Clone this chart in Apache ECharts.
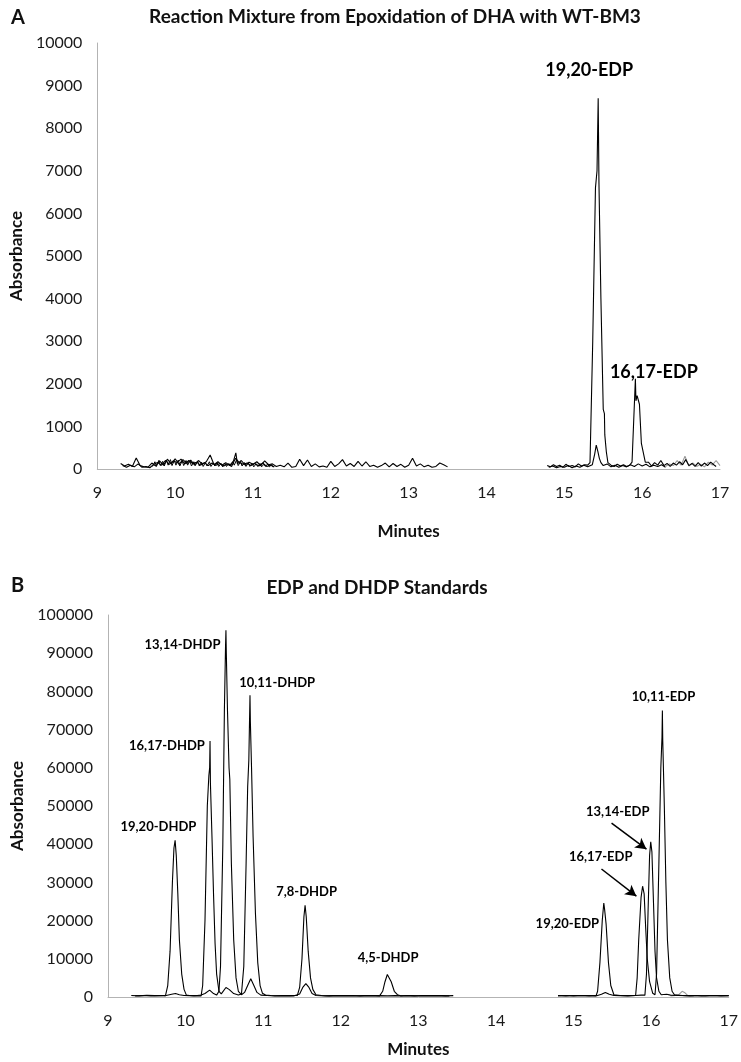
<!DOCTYPE html>
<html>
<head>
<meta charset="utf-8">
<script src="https://cdn.jsdelivr.net/npm/echarts@6/dist/echarts.min.js"></script>
<style>
html,body{margin:0;padding:0;background:#fff;}
#c{width:741px;height:1062px;}
</style>
</head>
<body>
<div id="c"></div>
<script>
// ---------- Panel A data (minutes, absorbance) ----------
const topXTicks = [9, 10, 11, 12, 13, 14, 15, 16, 17];
const topA_left = [[9.30,130],[9.35,70],[9.40,110],[9.45,60],[9.50,260],[9.55,80],[9.60,50],[9.65,40],[9.70,140],[9.75,70],[9.80,190],[9.85,90],[9.90,230],[9.95,120],[10.00,240],[10.05,110],[10.10,220],[10.15,130],[10.20,210],[10.25,90],[10.30,200],[10.35,110],[10.40,170],[10.45,330],[10.50,100],[10.55,170],[10.60,90],[10.65,150],[10.70,80],[10.75,190],[10.78,380],[10.80,120],[10.85,200],[10.90,90],[10.95,160],[11.00,110],[11.05,170],[11.10,80],[11.15,190],[11.20,100],[11.25,120],[11.30,60],[11.35,90],[11.40,50],[11.45,140],[11.50,40],[11.55,60],[11.60,230],[11.65,80],[11.70,210],[11.75,60],[11.80,120],[11.85,50],[11.90,70],[11.95,40],[12.00,180],[12.05,60],[12.10,120],[12.15,220],[12.20,70],[12.25,130],[12.30,60],[12.35,180],[12.40,70],[12.45,170],[12.50,60],[12.55,90],[12.60,40],[12.65,80],[12.70,140],[12.75,50],[12.80,130],[12.85,60],[12.90,110],[12.95,40],[13.00,90],[13.05,250],[13.10,70],[13.15,120],[13.20,50],[13.25,90],[13.30,40],[13.35,60],[13.40,140],[13.45,100],[13.50,50]];
const topB_left = [[9.325,80],[9.375,40],[9.425,90],[9.475,50],[9.525,120],[9.575,40],[9.625,60],[9.675,30],[9.725,110],[9.775,150],[9.825,90],[9.875,200],[9.925,110],[9.975,190],[10.025,150],[10.075,230],[10.125,120],[10.175,200],[10.225,130],[10.275,160],[10.325,90],[10.375,150],[10.425,80],[10.475,140],[10.525,90],[10.575,130],[10.625,70],[10.675,120],[10.725,60],[10.775,250],[10.825,150],[10.875,110],[10.925,140],[10.975,80],[11.025,130],[11.075,70],[11.125,140],[11.175,60],[11.225,90],[11.275,50]];
const topC_left = [[9.71,60],[9.74,170],[9.76,60],[9.79,200],[9.81,80],[9.84,180],[9.86,70],[9.89,210],[9.91,90],[9.94,220],[9.96,80],[9.99,200],[10.01,90],[10.04,210],[10.06,70],[10.09,190],[10.11,80],[10.14,200],[10.16,90],[10.19,180],[10.21,70],[10.24,170],[10.26,80],[10.29,190],[10.31,70],[10.34,160],[10.36,60],[10.39,150],[10.41,70],[10.44,170],[10.46,60],[10.49,140],[10.51,70],[10.54,150],[10.56,60],[10.59,130],[10.61,50],[10.64,140],[10.66,60],[10.69,130],[10.71,70],[10.74,160],[10.76,90],[10.79,220],[10.81,80],[10.84,170],[10.86,70],[10.89,150],[10.91,60],[10.94,140],[10.96,60],[10.99,130],[11.01,50],[11.04,120],[11.06,60],[11.09,130],[11.11,50],[11.14,110],[11.16,60],[11.19,120],[11.21,50],[11.24,100],[11.26,40]];
const topA_right = [[14.78,80],[14.82,50],[14.86,100],[14.90,60],[14.94,90],[14.98,40],[15.02,110],[15.06,60],[15.10,80],[15.14,50],[15.18,120],[15.22,70],[15.26,100],[15.30,90],[15.33,150],[15.365,3000],[15.40,6600],[15.42,7000],[15.435,8700],[15.445,6700],[15.47,4000],[15.50,1400],[15.515,1300],[15.52,800],[15.54,400],[15.56,150],[15.60,90],[15.64,60],[15.68,110],[15.72,70],[15.76,100],[15.80,60],[15.84,90],[15.87,160],[15.913,2120],[15.92,1600],[15.935,1720],[15.965,1520],[15.99,600],[16.01,640],[16.04,160],[16.08,160],[16.12,70],[16.16,150],[16.20,90],[16.24,200],[16.28,80],[16.32,130],[16.36,60],[16.40,140],[16.44,90],[16.48,170],[16.52,100],[16.56,220],[16.60,80],[16.64,130],[16.68,60],[16.72,150],[16.76,70],[16.80,140],[16.84,80],[16.88,160],[16.92,100],[16.95,60]];
const topB_right = [[14.80,40],[14.85,70],[14.90,30],[14.95,60],[15.00,40],[15.05,80],[15.10,30],[15.15,70],[15.20,40],[15.25,90],[15.30,50],[15.36,100],[15.39,350],[15.41,560],[15.43,420],[15.45,250],[15.47,150],[15.50,80],[15.55,120],[15.60,50],[15.65,90],[15.70,40],[15.75,80],[15.80,50],[15.85,100],[15.90,60],[15.95,120],[16.00,70],[16.05,110],[16.10,50],[16.15,90],[16.20,60],[16.25,100],[16.30,40]];
const topGrey_right = [[16.30,60],[16.35,120],[16.40,80],[16.45,200],[16.50,90],[16.55,300],[16.60,70],[16.65,140],[16.70,60],[16.75,110],[16.80,50],[16.85,160],[16.90,90],[16.95,200],[17.00,80]];
const topPeakLabels = [[15.32,9370,'19,20-EDP'],[16.15,2280,'16,17-EDP']];

// ---------- Panel B data ----------
const botXTicks = [9, 10, 11, 12, 13, 14, 15, 16, 17];
const botL1 = [[9.30,400],[9.40,300],[9.50,450],[9.60,350],[9.70,400],
  [9.74,300],[9.77,3000],[9.80,12000],[9.83,30000],[9.85,39000],[9.865,41000],[9.88,37000],[9.90,27000],[9.92,15000],[9.95,6000],[9.98,2000],[10.01,500],
  [10.05,400],[10.10,350],[10.15,400],[10.20,500],[10.25,900],[10.31,1800],[10.36,900],[10.40,500],
  [10.43,1500],[10.45,8000],[10.48,40000],[10.50,75000],[10.515,92000],[10.52,96000],[10.525,90000],[10.54,75000],[10.56,60000],[10.57,57000],[10.59,35000],[10.62,15000],[10.65,5000],[10.68,1500],[10.72,600],
  [10.76,1200],[10.80,3000],[10.84,4800],[10.88,3000],[10.92,1200],[10.97,500],[11.05,400],[11.15,300],[11.25,400],[11.35,350],[11.40,400],
  [11.44,400],[11.47,2500],[11.50,10000],[11.525,21000],[11.54,24000],[11.555,21000],[11.58,12000],[11.61,5000],[11.64,2000],[11.68,600],
  [11.75,400],[11.85,300],[11.95,400],[12.05,350],[12.15,400],[12.25,300],[12.35,400],[12.45,350],
  [12.50,300],[12.54,1500],[12.57,4000],[12.60,5900],[12.62,5600],[12.65,4000],[12.69,1500],[12.73,600],[12.77,300],
  [12.85,400],[12.95,300],[13.05,400],[13.15,350],[13.25,400],[13.35,300],[13.45,350]];
const botL2 = [[9.35,300],[9.45,400],[9.55,300],[9.65,350],[9.75,400],[9.82,700],[9.87,900],[9.92,600],[9.98,400],[10.05,350],[10.12,300],
  [10.20,300],[10.22,3000],[10.25,20000],[10.28,50000],[10.30,58000],[10.31,60000],[10.315,67000],[10.32,56000],[10.34,42000],[10.36,27000],[10.38,14000],[10.40,6000],[10.43,1500],[10.46,800],
  [10.48,1200],[10.52,2500],[10.56,2000],[10.62,900],[10.68,500],
  [10.72,800],[10.75,8000],[10.78,35000],[10.80,55000],[10.815,62000],[10.83,79000],[10.835,72000],[10.85,60000],[10.87,42000],[10.90,22000],[10.93,9000],[10.96,3000],[10.99,1000],[11.03,500],
  [11.10,400],[11.20,300],[11.30,350],[11.40,300],[11.47,800],[11.51,2500],[11.55,3500],[11.59,2500],[11.63,900],[11.68,400],
  [11.80,300],[11.90,350],[12.00,300],[12.10,350],[12.20,300],[12.30,350],[12.40,300],[12.50,350],[12.60,300],[12.70,350],[12.80,300],[12.90,350],[13.00,300],[13.10,350],[13.20,300],[13.30,350],[13.40,300]];
const botR1 = [[14.80,400],[14.90,300],[15.00,400],[15.10,350],[15.20,400],
  [15.29,300],[15.31,1500],[15.34,9000],[15.37,20000],[15.39,24600],[15.40,23000],[15.42,19000],[15.45,9000],[15.48,3000],[15.52,600],
  [15.60,400],[15.70,350],[15.80,400],[15.87,500],
  [15.92,500],[15.94,6000],[15.96,22000],[15.98,37000],[15.995,40600],[16.01,38000],[16.03,25000],[16.05,12000],[16.07,5000],[16.10,1500],[16.13,600],
  [16.20,700],[16.25,500],[16.35,400],[16.45,350],[16.55,400],[16.65,300],[16.75,400],[16.85,350],[16.95,400],[17.00,350]];
const botR2 = [[14.80,300],[14.90,400],[15.00,300],[15.10,400],[15.20,300],[15.30,350],[15.36,700],[15.41,1200],[15.46,700],[15.52,400],[15.60,350],[15.70,300],
  [15.80,400],[15.82,5000],[15.84,15000],[15.87,26000],[15.89,29000],[15.91,27000],[15.93,18000],[15.95,10000],[15.98,4000],[16.02,1000],
  [16.05,600],[16.07,6000],[16.10,35000],[16.125,60000],[16.14,68000],[16.145,75000],[16.15,67000],[16.17,50000],[16.19,30000],[16.21,15000],[16.24,5000],[16.27,1500],[16.30,600],
  [16.40,400],[16.50,300],[16.60,400],[16.70,300],[16.80,400],[16.90,300],[17.00,350]];
const botGrey = [[16.25,300],[16.35,500],[16.40,1500],[16.43,1200],[16.47,400],[16.55,300]];
const botPeakLabels = [[9.96,92100,'13,14-DHDP'],[9.76,65700,'16,17-DHDP'],[9.65,44500,'19,20-DHDP'],[11.18,82200,'10,11-DHDP'],[11.56,27500,'7,8-DHDP'],[12.61,10200,'4,5-DHDP'],[16.16,78500,'10,11-EDP'],[15.57,48400,'13,14-EDP'],[15.35,36600,'16,17-EDP'],[14.92,19100,'19,20-EDP']];
const botArrows = [[[15.49,45500],[15.94,38700]],[[15.36,33500],[15.81,26400]]];

const FONT = 'Lato, "Open Sans", sans-serif';
const chart = echarts.init(document.getElementById('c'), null, {renderer:'canvas'});

function trace(data, xi, color, w){
  return {type:'line', data:data, xAxisIndex:xi, yAxisIndex:xi, showSymbol:false, symbol:'none',
    lineStyle:{color:color||'#000', width:w||1.1}, animation:false, silent:true, z:2};
}
function labelSeries(data, xi, size){
  return {type:'scatter', data:data, xAxisIndex:xi, yAxisIndex:xi, symbolSize:0, animation:false, silent:true,
    itemStyle:{opacity:1, color:'#000'},
    label:{show:true, position:'inside', formatter:p=>p.data[2], color:'#000', opacity:1, fontFamily:FONT, fontWeight:'bold', fontSize:size}, z:5};
}
function xAxis(gi, gap){
  return {type:'value', gridIndex:gi, min:9, max:17, interval:1,
    axisLine:{show:true, onZero:false, lineStyle:{color:'#b3b3b3', width:1}}, axisTick:{show:false}, splitLine:{show:false},
    axisLabel:{color:'#1a1a1a', fontFamily:FONT, fontSize:16, margin:16, formatter:v=>String(v)},
    name:'Minutes', nameLocation:'middle', nameGap:gap, nameTextStyle:{color:'#111', fontFamily:FONT, fontWeight:'bold', fontSize:17}};
}
function yAxis(gi, max, interval, gap){
  return {type:'value', gridIndex:gi, min:0, max:max, interval:interval,
    axisLine:{show:true, lineStyle:{color:'#b3b3b3', width:1}}, axisTick:{show:false}, splitLine:{show:false},
    axisLabel:{color:'#1a1a1a', fontFamily:FONT, fontSize:16, margin:15, formatter:v=>String(v)},
    name:'Absorbance', nameLocation:'middle', nameGap:gap, nameRotate:90, nameTextStyle:{color:'#111', fontFamily:FONT, fontWeight:'bold', fontSize:17}};
}

const arrowSeries = labelSeries(botPeakLabels, 1, 13);
arrowSeries.markLine = {silent:true, symbol:['none','arrow'], symbolSize:[9,11], animation:false,
  lineStyle:{color:'#000', width:1.5, type:'solid', opacity:1}, label:{show:false},
  data: botArrows.map(a=>[{coord:a[0]},{coord:a[1]}])};

chart.setOption({
  backgroundColor:'#fff',
  title:[
    {text:'Reaction Mixture from Epoxidation of DHA with WT-BM3', left:390, top:2, textAlign:'center', textStyle:{fontFamily:FONT, fontWeight:'bold', fontSize:19, color:'#111'}},
    {text:'A', left:6, top:3, textStyle:{fontFamily:FONT, fontWeight:'bold', fontSize:20, color:'#111'}},
    {text:'EDP and DHDP Standards', left:372, top:573, textAlign:'center', textStyle:{fontFamily:FONT, fontWeight:'bold', fontSize:19, color:'#111'}},
    {text:'B', left:6, top:571, textStyle:{fontFamily:FONT, fontWeight:'bold', fontSize:20, color:'#111'}}
  ],
  grid:[
    {left:89, right:21, top:43, height:426},
    {left:108, right:8, top:615, height:382}
  ],
  xAxis:[xAxis(0, 54), xAxis(1, 44)],
  yAxis:[yAxis(0, 10000, 1000, 62), yAxis(1, 100000, 10000, 66)],
  series:[
    trace(topB_left, 0), trace(topC_left, 0, '#000', 1), trace(topA_left, 0), trace(topB_right, 0), trace(topGrey_right, 0, '#9a9a9a', 1.1), trace(topA_right, 0),
    labelSeries(topPeakLabels, 0, 18),
    trace(botL1, 1), trace(botL2, 1), trace(botGrey, 1, '#9a9a9a', 1.1), trace(botR1, 1), trace(botR2, 1),
    arrowSeries
  ]
});
</script>
</body>
</html>
